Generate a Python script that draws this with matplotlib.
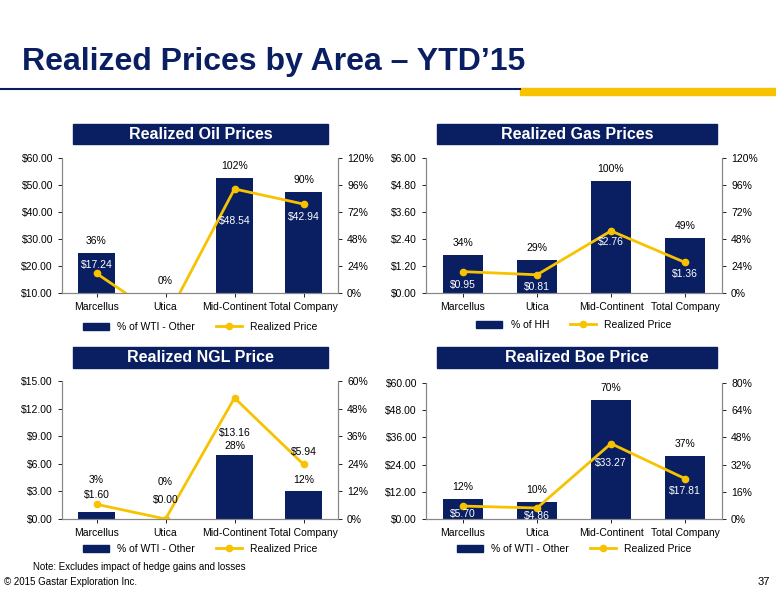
import matplotlib
matplotlib.use("Agg")
import matplotlib.pyplot as plt
from matplotlib.patches import Rectangle
from matplotlib.lines import Line2D

plt.rcParams['font.family'] = ['Liberation Sans', 'DejaVu Sans']

NAVY = "#0A1F62"
YEL = "#F7C300"
W, H = 776, 600
PT = 0.72  # px -> points

categories = ["Marcellus", "Utica", "Mid-Continent", "Total Company"]

oil_pct = [36, 0, 102, 90]
oil_price = [17.24, 0.0, 48.54, 42.94]
gas_pct = [34, 29, 100, 49]
gas_price = [0.95, 0.81, 2.76, 1.36]
ngl_pct = [3, 0, 28, 12]
ngl_price = [1.60, 0.00, 13.16, 5.94]
boe_pct = [12, 10, 70, 37]
boe_price = [5.70, 4.86, 33.27, 17.81]

panels = [
    dict(title="Realized Oil Prices", box=(62, 158, 338, 293), hdr=(73, 124, 328, 144),
         pct=oil_pct, price=oil_price, ylim=(10, 60), yt=[10, 20, 30, 40, 50, 60],
         r=(0, 120), rt=[0, 24, 48, 72, 96, 120], leg="% of WTI - Other", legy=327,
         show=[True, False, True, True], off=[8, 0, -32, -13],
         poff=[12, 12, 12, 12], col=["white"] * 4),
    dict(title="Realized Gas Prices", box=(426, 158, 722, 293), hdr=(437, 124, 717, 144),
         pct=gas_pct, price=gas_price, ylim=(0, 6), yt=[0, 1.2, 2.4, 3.6, 4.8, 6.0],
         r=(0, 120), rt=[0, 24, 48, 72, 96, 120], leg="% of HH", legy=325,
         show=[True] * 4, off=[-13, -12, -11, -12], poff=[12, 12, 12, 12], col=["white"] * 4),
    dict(title="Realized NGL Price", box=(62, 381, 338, 519), hdr=(73, 347, 328, 368),
         pct=ngl_pct, price=ngl_price, ylim=(0, 15), yt=[0, 3, 6, 9, 12, 15],
         r=(0, 60), rt=[0, 12, 24, 36, 48, 60], leg="% of WTI - Other", legy=549,
         show=[True] * 4, off=[9, 19, -35, 12], poff=[32, 37, 9, 11], col=["black"] * 4),
    dict(title="Realized Boe Price", box=(426, 383, 722, 519), hdr=(437, 347, 717, 368),
         pct=boe_pct, price=boe_price, ylim=(0, 60), yt=[0, 12, 24, 36, 48, 60],
         r=(0, 80), rt=[0, 16, 32, 48, 64, 80], leg="% of WTI - Other", legy=549,
         show=[True] * 4, off=[-8, -8, -19, -12], poff=[12, 12, 12, 12], col=["white"] * 4),
]

fig = plt.figure(figsize=(W / 100, H / 100), dpi=100)

def fx(x): return x / W
def fy(y): return 1 - y / H

fig.text(fx(22), fy(62), "Realized Prices by Area \u2013 YTD\u201915", fontsize=23, color=NAVY,
         fontweight="bold", va="center", ha="left")
fig.add_artist(Line2D([0, fx(520)], [fy(89), fy(89)], color=NAVY, lw=1.5))
fig.add_artist(Rectangle((fx(520), fy(95)), fx(256), 7 / H, color=YEL, transform=fig.transFigure))

for p in panels:
    x0, y0, x1, y1 = p["box"]
    hx0, hy0, hx1, hy1 = p["hdr"]
    fig.add_artist(Rectangle((fx(hx0), fy(hy1)), fx(hx1 - hx0), (hy1 - hy0) / H, color=NAVY,
                             transform=fig.transFigure))
    fig.text(fx((hx0 + hx1) / 2), fy((hy0 + hy1) / 2), p["title"], color="white", fontsize=11.5,
             fontweight="bold", ha="center", va="center")
    ax = fig.add_axes([fx(x0), fy(y1), fx(x1 - x0), (y1 - y0) / H])
    axr = ax.twinx()
    xs = range(len(categories))
    axr.bar(xs, p["pct"], width=0.55, color=NAVY, zorder=1)
    axr.set_ylim(*p["r"])
    axr.set_yticks(p["rt"])
    axr.set_yticklabels([f"{v}%" for v in p["rt"]], fontsize=7.5)
    for i, v in enumerate(p["pct"]):
        axr.annotate(f"{v}%", (i, v), xytext=(0, p["poff"][i] * PT), textcoords="offset points",
                     ha="center", va="center", fontsize=7.5)
    ax.set_zorder(axr.get_zorder() + 1)
    ax.patch.set_visible(False)
    ax.plot(xs, p["price"], color=YEL, lw=2, marker="o", ms=4.5)
    ax.set_ylim(*p["ylim"])
    ax.set_yticks(p["yt"])
    ax.set_yticklabels([f"${v:.2f}" for v in p["yt"]], fontsize=7.5)
    ax.set_xlim(-0.5, 3.5)
    ax.set_xticks(list(xs))
    ax.set_xticklabels(categories, fontsize=7.5)
    for i, v in enumerate(p["price"]):
        if p["show"][i]:
            ax.annotate(f"${v:.2f}", (i, v), xytext=(0, p["off"][i] * PT), textcoords="offset points",
                        ha="center", va="center", fontsize=7.5, color=p["col"][i])
    for a in (ax, axr):
        a.spines["top"].set_visible(False)
        for s in ("left", "right", "bottom"):
            a.spines[s].set_color("#888888")
        a.tick_params(length=3, colors="black", width=0.6)
    handles = [Rectangle((0, 0), 1, 1, color=NAVY),
               Line2D([], [], color=YEL, lw=2, marker="o", ms=4.5)]
    fig.legend(handles, [p["leg"], "Realized Price"], loc="center",
               bbox_to_anchor=(fx((x0 + x1) / 2), fy(p["legy"])), ncol=2, frameon=False,
               fontsize=7.5, handlelength=2.5, columnspacing=2)

fig.text(fx(33), fy(567), "Note: Excludes impact of hedge gains and losses", fontsize=7, va="center")
fig.text(fx(4), fy(582), "\u00a9 2015 Gastar Exploration Inc.", fontsize=7, va="center")
fig.text(fx(770), fy(582), "37", fontsize=8, va="center", ha="right")

fig.savefig("out.png", dpi=100)
